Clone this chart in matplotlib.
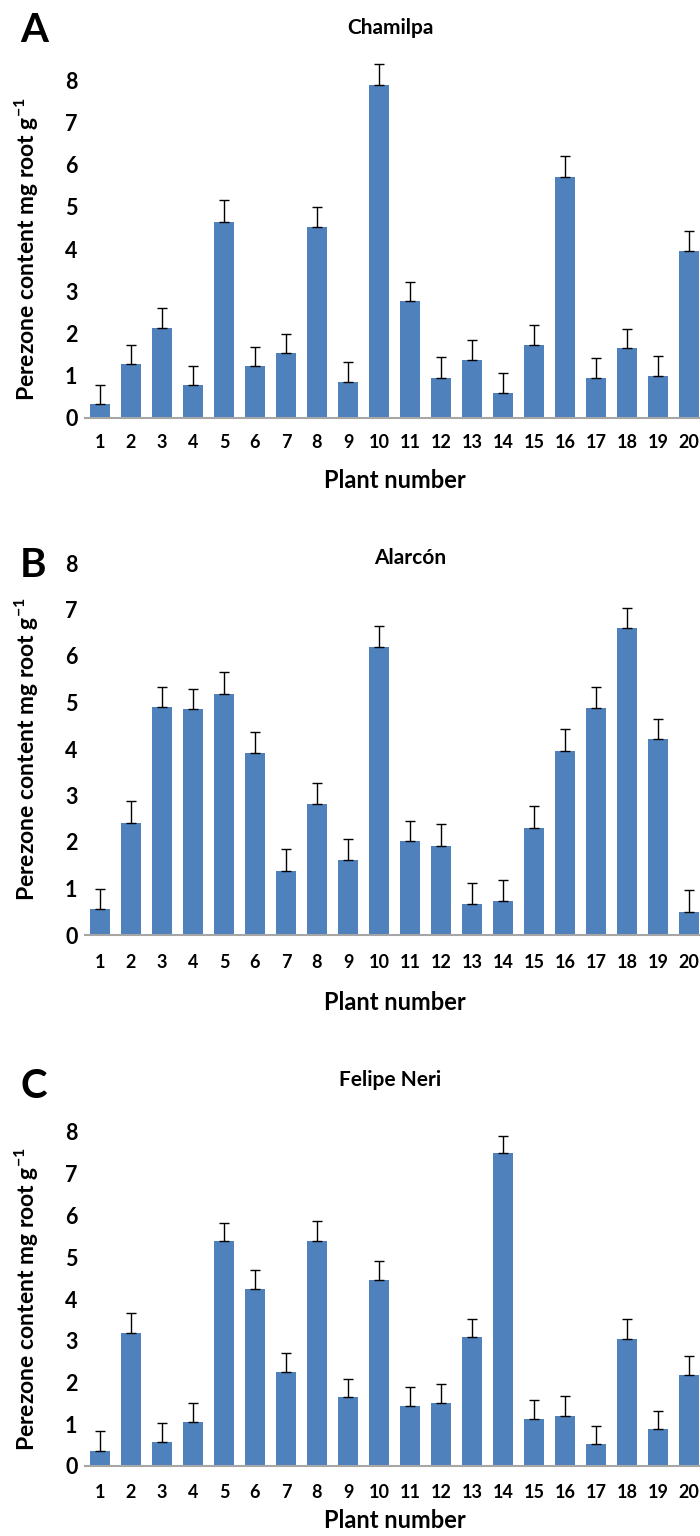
import matplotlib
matplotlib.use('Agg')
import matplotlib.pyplot as plt
import numpy as np

plt.rcParams['font.family'] = ['Lato', 'DejaVu Sans']
plt.rcParams['font.weight'] = 'bold'
plt.rcParams['mathtext.fontset'] = 'custom'
plt.rcParams['mathtext.bf'] = 'Lato:bold'
plt.rcParams['mathtext.rm'] = 'Lato:bold'
plt.rcParams['mathtext.default'] = 'bf'

plants = list(range(1, 21))

chamilpa = [0.32, 1.27, 2.14, 0.78, 4.65, 1.22, 1.53, 4.52, 0.86, 7.87,
            2.78, 0.95, 1.38, 0.60, 1.73, 5.70, 0.95, 1.65, 1.00, 3.95]
chamilpa_err = [0.45, 0.46, 0.46, 0.46, 0.51, 0.45, 0.46, 0.47, 0.46, 0.50,
                0.45, 0.49, 0.47, 0.46, 0.47, 0.49, 0.46, 0.46, 0.47, 0.47]

alarcon = [0.55, 2.41, 4.90, 4.86, 5.18, 3.91, 1.38, 2.81, 1.61, 6.20,
           2.02, 1.92, 0.67, 0.73, 2.31, 3.96, 4.88, 6.60, 4.21, 0.49]
alarcon_err = [0.45, 0.47, 0.43, 0.43, 0.47, 0.46, 0.46, 0.46, 0.46, 0.44,
               0.43, 0.46, 0.44, 0.46, 0.46, 0.46, 0.46, 0.44, 0.43, 0.47]

felipe = [0.36, 3.19, 0.58, 1.05, 5.40, 4.23, 2.24, 5.40, 1.65, 4.45,
          1.44, 1.50, 3.08, 7.49, 1.12, 1.20, 0.52, 3.04, 0.88, 2.18]
felipe_err = [0.48, 0.47, 0.44, 0.47, 0.43, 0.47, 0.47, 0.46, 0.44, 0.47,
              0.46, 0.47, 0.43, 0.42, 0.46, 0.48, 0.44, 0.47, 0.44, 0.45]

W, H = 700, 1536
fig = plt.figure(figsize=(W / 100, H / 100), dpi=100)

# (letter, title, values, errors, baseline px, px per unit, letter y, title y, title x, tick y, xlabel y)
panels = [
    ('A', 'Chamilpa', chamilpa, chamilpa_err, 418, 42.25, 30, 28, 390, 442, 480),
    ('B', 'Alarcón', alarcon, alarcon_err, 935, 46.5, 565, 558, 410, 962, 1002),
    ('C', 'Felipe Neri', felipe, felipe_err, 1466, 41.75, 1087, 1080, 390, 1492, 1521),
]

blue = '#4F81BD'
left_px, right_px = 84.5, 704.5
top_val = 8.5

for letter, title, vals, errs, base, unit, ly, ty, tx, tky, xly in panels:
    top = base - top_val * unit
    ax = fig.add_axes([left_px / W, 1 - base / H, (right_px - left_px) / W, (base - top) / H])
    ax.bar(plants, vals, width=0.64, color=blue, zorder=2)
    ax.errorbar(plants, vals, yerr=[np.zeros(len(vals)), errs], fmt='none',
                ecolor='black', elinewidth=1, capsize=3.5, capthick=1, zorder=3)
    ax.set_xlim(0.5, 20.5)
    ax.set_ylim(0, top_val)
    for s in ['top', 'right', 'left']:
        ax.spines[s].set_visible(False)
    ax.spines['bottom'].set_color('#A6A6A6')
    ax.spines['bottom'].set_linewidth(1.5)
    ax.set_yticks(range(0, 9))
    ax.set_xticks(plants)
    ax.set_xticklabels([])
    ax.tick_params(axis='both', length=0)
    ax.tick_params(axis='y', labelsize=15.5, pad=5)
    for p in plants:
        fig.text((left_px + (p - 0.5) * (right_px - left_px) / 20) / W, 1 - tky / H, str(p),
                 ha='center', va='center', fontsize=13, fontweight='bold')
    fig.text(tx / W, 1 - ty / H, title, ha='center', va='center', fontsize=15, fontweight='bold')
    fig.text(20 / W, 1 - ly / H, letter, ha='left', va='center', fontsize=29, fontweight='bold')
    fig.text(395 / W, 1 - xly / H, 'Plant number', ha='center', va='center', fontsize=17, fontweight='bold')
    fig.text(27 / W, 1 - (base - 4 * unit) / H, r'Perezone content mg root g$^{-1}$',
             rotation=90, ha='center', va='center', fontsize=16.5, fontweight='bold')

fig.savefig('out.png', dpi=100)
